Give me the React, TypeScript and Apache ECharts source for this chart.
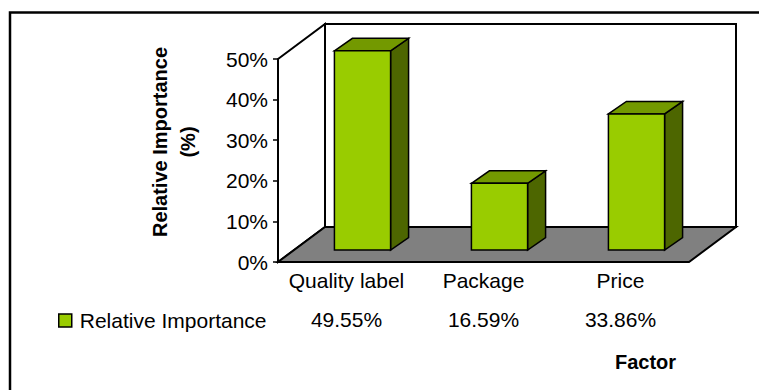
import React, { useEffect, useRef } from "react";
import * as echarts from "echarts";

const categories = ["Quality label", "Package", "Price"];
const values = [0.4955, 0.1659, 0.3386];
const valueLabels = ["49.55%", "16.59%", "33.86%"];
const seriesName = "Relative Importance";
const yTicks = [0, 0.1, 0.2, 0.3, 0.4, 0.5];

const FONT = "'Liberation Sans', Arial, sans-serif";
const FS = 21;
const FRONT = "#99CC00";
const SIDE = "#4D6600";
const TOP = "#739900";
const FLOOR = "#808080";

// 3D depth offsets
const DEPTH_X = 47;
const DEPTH_Y = -35;
const BAR_SHIFT_X = 16;
const BAR_SHIFT_Y = -12;
const BAR_DX = 18;
const BAR_DY = -12.5;

export default function App() {
  const ref = useRef<HTMLDivElement>(null);

  useEffect(() => {
    if (!ref.current) return;
    const chart = echarts.init(ref.current, undefined, { renderer: "svg" });

    const wallRender = (params: any, api: any) => {
      const cs = params.coordSys;
      const x0 = cs.x;
      const x1 = cs.x + cs.width;
      const yT = cs.y;
      const yB = cs.y + cs.height;
      const stroke = { stroke: "#000", lineWidth: 2, lineJoin: "miter" };
      return {
        type: "group",
        children: [
          {
            type: "polygon",
            shape: {
              points: [
                [x0 + DEPTH_X, yT + DEPTH_Y],
                [x1 + DEPTH_X, yT + DEPTH_Y],
                [x1 + DEPTH_X, yB + DEPTH_Y],
                [x0 + DEPTH_X, yB + DEPTH_Y],
              ],
            },
            style: { fill: "#fff", ...stroke },
          },
          {
            type: "polygon",
            shape: {
              points: [
                [x0, yT],
                [x0 + DEPTH_X, yT + DEPTH_Y],
                [x0 + DEPTH_X, yB + DEPTH_Y],
                [x0, yB],
              ],
            },
            style: { fill: "#fff", ...stroke },
          },
          {
            type: "polygon",
            shape: {
              points: [
                [x0, yB],
                [x0 + DEPTH_X, yB + DEPTH_Y],
                [x1 + DEPTH_X, yB + DEPTH_Y],
                [x1, yB],
              ],
            },
            style: { fill: FLOOR, ...stroke },
          },
        ],
      };
    };

    const barRender = (params: any, api: any) => {
      const idx = api.value(0);
      const v = api.value(1);
      const base = api.coord([idx, 0]);
      const top = api.coord([idx, v]);
      const band = api.size([1, 0])[0];
      const w = band * 0.41;
      const xl = base[0] - w / 2 + BAR_SHIFT_X;
      const xr = xl + w;
      const yb = base[1] + BAR_SHIFT_Y;
      const yt = yb - (base[1] - top[1]) * 0.99;
      const stroke = { stroke: "#000", lineWidth: 1.5, lineJoin: "miter" };
      return {
        type: "group",
        children: [
          {
            type: "polygon",
            shape: {
              points: [
                [xr, yt],
                [xr + BAR_DX, yt + BAR_DY],
                [xr + BAR_DX, yb + BAR_DY],
                [xr, yb],
              ],
            },
            style: { fill: SIDE, ...stroke },
          },
          {
            type: "polygon",
            shape: {
              points: [
                [xl, yt],
                [xl + BAR_DX, yt + BAR_DY],
                [xr + BAR_DX, yt + BAR_DY],
                [xr, yt],
              ],
            },
            style: { fill: TOP, ...stroke },
          },
          {
            type: "polygon",
            shape: {
              points: [
                [xl, yt],
                [xr, yt],
                [xr, yb],
                [xl, yb],
              ],
            },
            style: { fill: FRONT, ...stroke },
          },
        ],
      };
    };

    chart.setOption({
      animation: false,
      backgroundColor: "#fff",
      textStyle: { fontFamily: FONT },
      grid: { left: 278, width: 411, top: 59, height: 203 },
      legend: {
        left: 58,
        top: 310,
        padding: 0,
        itemWidth: 13,
        itemHeight: 13,
        itemGap: 10,
        selectedMode: false,
        textStyle: { fontSize: FS, color: "#000", fontFamily: FONT, padding: [0, 0, 0, 3] },
        data: [
          {
            name: seriesName,
            icon: "rect",
            itemStyle: { color: FRONT, borderColor: "#000", borderWidth: 1.5 },
          },
        ],
      },
      xAxis: [
        {
          type: "category",
          data: categories,
          position: "bottom",
          axisLine: { show: false },
          axisTick: { show: false },
          axisLabel: { fontSize: FS, color: "#000", margin: 8, fontFamily: FONT, interval: 0 },
        },
        {
          type: "category",
          data: valueLabels,
          position: "bottom",
          offset: 39,
          axisLine: { show: false },
          axisTick: { show: false },
          axisLabel: { fontSize: FS, color: "#000", margin: 8, fontFamily: FONT, interval: 0 },
        },
      ],
      yAxis: {
        type: "value",
        min: yTicks[0],
        max: yTicks[yTicks.length - 1],
        interval: 0.1,
        axisLine: { show: false },
        axisTick: { show: true, length: 5, lineStyle: { color: "#000", width: 1.5 } },
        splitLine: { show: false },
        axisLabel: {
          fontSize: FS,
          color: "#000",
          margin: 10,
          fontFamily: FONT,
          formatter: (v: number) => Math.round(v * 100) + "%",
        },
      },
      graphic: [
        {
          type: "rect",
          shape: { x: 10, y: 12.5, width: 800, height: 500 },
          style: { fill: "none", stroke: "#000", lineWidth: 2.5 },
          silent: true,
          z: 100,
        },
        {
          type: "text",
          x: 160,
          y: 142,
          rotation: Math.PI / 2,
          style: {
            text: "Relative Importance",
            fontSize: 20,
            fontWeight: "bold",
            fontFamily: FONT,
            fill: "#000",
            align: "center",
            verticalAlign: "middle",
          },
        },
        {
          type: "text",
          x: 188,
          y: 142,
          rotation: Math.PI / 2,
          style: {
            text: "(%)",
            fontSize: 20,
            fontWeight: "bold",
            fontFamily: FONT,
            fill: "#000",
            align: "center",
            verticalAlign: "middle",
          },
        },
        {
          type: "text",
          x: 615,
          y: 362,
          style: {
            text: "Factor",
            fontSize: 20,
            fontWeight: "bold",
            fontFamily: FONT,
            fill: "#000",
            align: "left",
            verticalAlign: "middle",
          },
        },
      ],
      series: [
        {
          type: "custom",
          name: "walls",
          silent: true,
          renderItem: wallRender,
          data: [[0, 0]],
          z: 1,
        },
        {
          type: "custom",
          name: seriesName,
          silent: true,
          itemStyle: { color: FRONT },
          renderItem: barRender,
          encode: { x: 0, y: 1 },
          data: values.map((v, i) => [i, v]),
          z: 2,
        },
      ],
    });

    return () => chart.dispose();
  }, []);

  return (
    <div
      ref={ref}
      style={{ position: "fixed", left: 0, top: 0, width: 759, height: 390 }}
    />
  );
}
